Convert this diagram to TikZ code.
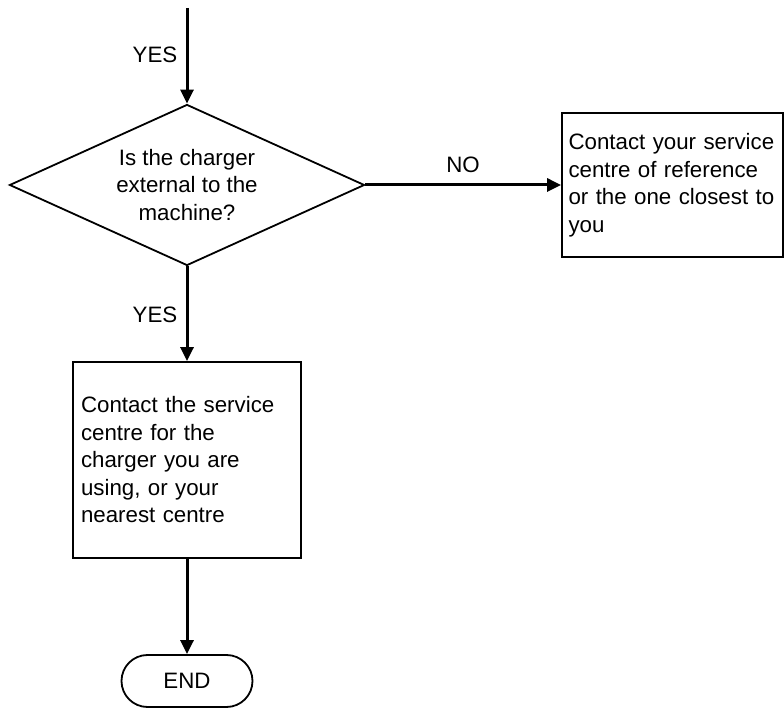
\documentclass[tikz,border=0pt]{standalone}
\usepackage{fontspec}
\setmainfont{Liberation Sans}
\usepackage{tikz}
\usetikzlibrary{arrows.meta,shapes.geometric}

\tikzset{
  decision/.style={draw,line width=1.8pt,diamond,aspect=2.2,inner sep=0pt,
    minimum width=355pt,minimum height=161pt,align=center},
  action/.style={draw,line width=1.8pt,rectangle,inner ysep=0pt,align=left},
  terminal/.style={draw,line width=1.8pt,rectangle,rounded corners=26pt,
    minimum width=131pt,minimum height=52pt},
  flow/.style={line width=3pt,-{Triangle[length=14pt,width=13pt]}},
  lbl/.style={inner sep=0pt}
}

\begin{document}
\begin{tikzpicture}[x=1pt,y=1pt,font=\fontsize{22.3}{27.5}\selectfont]
\useasboundingbox (0,0) rectangle (784,709);
\coordinate (start) at (187,701);
\node[decision] (charger) at (187,524){Is the charger\\external to the\\machine?};
\node[action,inner xsep=6.5pt,text width=208pt,minimum height=144pt] (ref) at (672.5,524)
  {Contact your service\\centre of reference\\or the one closest to\\you};
\node[action,inner xsep=8pt,text width=212pt,minimum height=196pt] (own) at (187,249)
  {Contact the service\\centre for the\\charger you are\\using, or your\\nearest centre};
\node[terminal] (end) at (187,28){END};
\draw[flow] (start) -- (charger.north);
\draw[flow] (charger.east) -- (ref.west);
\draw[flow] (charger.south) -- (own.north);
\draw[flow] (own.south) -- (end.north);
\node[lbl] (yes1) at (155,654){YES};
\node[lbl] (no) at (463,544){NO};
\node[lbl] (yes2) at (155,394){YES};
\end{tikzpicture}
\end{document}
